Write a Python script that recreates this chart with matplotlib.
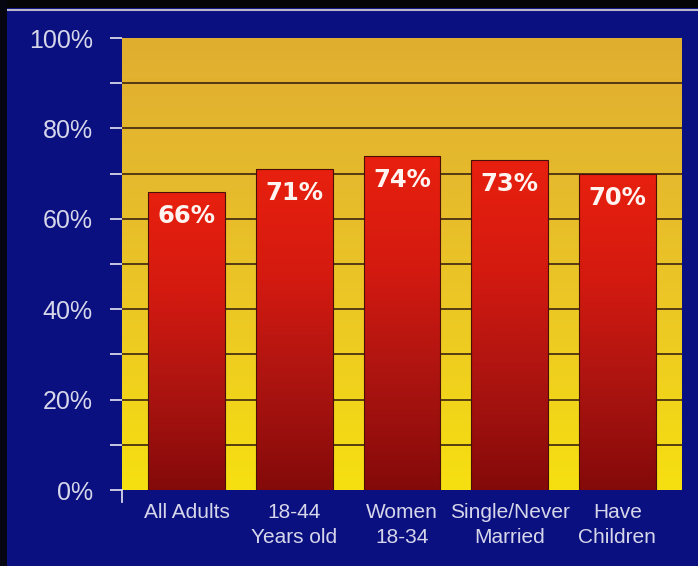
import numpy as np
import matplotlib
matplotlib.use("Agg")
import matplotlib.pyplot as plt
from matplotlib.colors import LinearSegmentedColormap
from matplotlib.patches import Rectangle
from matplotlib.lines import Line2D

categories = ["All Adults", "18-44\nYears old", "Women\n18-34", "Single/Never\nMarried", "Have\nChildren"]
values = [66, 71, 74, 73, 70]
bar_labels = ["66%", "71%", "74%", "73%", "70%"]
y_ticks = [0, 20, 40, 60, 80, 100]

NAVY = "#0b1080"
TEXT = "#d6d6ea"

fig = plt.figure(figsize=(6.98, 5.66), dpi=100)
fig.patch.set_facecolor(NAVY)

# black border strips and thin rule along the top
fig.add_artist(Rectangle((0, 1 - 8 / 566), 1, 8 / 566, transform=fig.transFigure,
                         facecolor="#050505", edgecolor="none"))
fig.add_artist(Rectangle((0, 0), 7 / 698, 1, transform=fig.transFigure,
                         facecolor="#060612", edgecolor="none"))
fig.add_artist(Line2D([8 / 698, 1], [1 - 9.5 / 566] * 2, transform=fig.transFigure,
                      color="#b8b8c8", lw=1.5))

ax = fig.add_axes([122 / 698, 76 / 566, 560 / 698, 452 / 566])
x0, x1 = -0.6, len(values) - 0.4

# gold-to-yellow backdrop
bg_cmap = LinearSegmentedColormap.from_list("bg", ["#f6e010", "#eecb22", "#e6bb2c", "#e0ae30"])
grad = np.linspace(0, 1, 256).reshape(-1, 1)
ax.imshow(grad, cmap=bg_cmap, aspect="auto", origin="lower",
          extent=[x0, x1, 0, 100], zorder=0)

for y in range(10, 100, 10):
    ax.axhline(y, color="#3c2410", lw=1.2, zorder=1)

# red bars with a vertical shade
bar_cmap = LinearSegmentedColormap.from_list("bar", ["#840a0a", "#ac1410", "#d41a10", "#e8200e"])
x = np.arange(len(values))
bars = ax.bar(x, values, width=0.71, color="none", edgecolor="#4a1008", lw=0.8, zorder=3)
for b, v in zip(bars, values):
    im = ax.imshow(grad, cmap=bar_cmap, aspect="auto", origin="lower",
                   extent=[b.get_x(), b.get_x() + b.get_width(), 0, v], zorder=2)
    im.set_clip_path(b)

for xi, v, lab in zip(x, values, bar_labels):
    ax.annotate(lab, (xi, v), xytext=(0, -24), textcoords="offset pixels",
                ha="center", va="center", color="#fff4f0", fontsize=17.5,
                fontweight="bold", family="DejaVu Sans", zorder=4)

ax.set_xlim(x0, x1)
ax.set_ylim(0, 100)

for s in ax.spines.values():
    s.set_visible(False)

ax.set_yticks(range(0, 101, 10))
ax.set_yticklabels([f"{t}%" if t in y_ticks else "" for t in range(0, 101, 10)])
ax.tick_params(axis="y", length=9, width=1.3, color=TEXT, pad=12,
               labelcolor=TEXT, labelsize=18)
for t in ax.get_yticklabels():
    t.set_family("Liberation Sans")

ax.set_xticks(x)
ax.set_xticklabels(categories, family="Liberation Sans",
                   fontsize=15, color=TEXT, linespacing=1.42)
ax.tick_params(axis="x", length=0, pad=9)

# little corner tick at the origin
ax.plot([x0, x0], [0, -2.6], color=TEXT, lw=1.3, clip_on=False, zorder=5)

fig.savefig("out.png", dpi=100, facecolor=fig.get_facecolor())
